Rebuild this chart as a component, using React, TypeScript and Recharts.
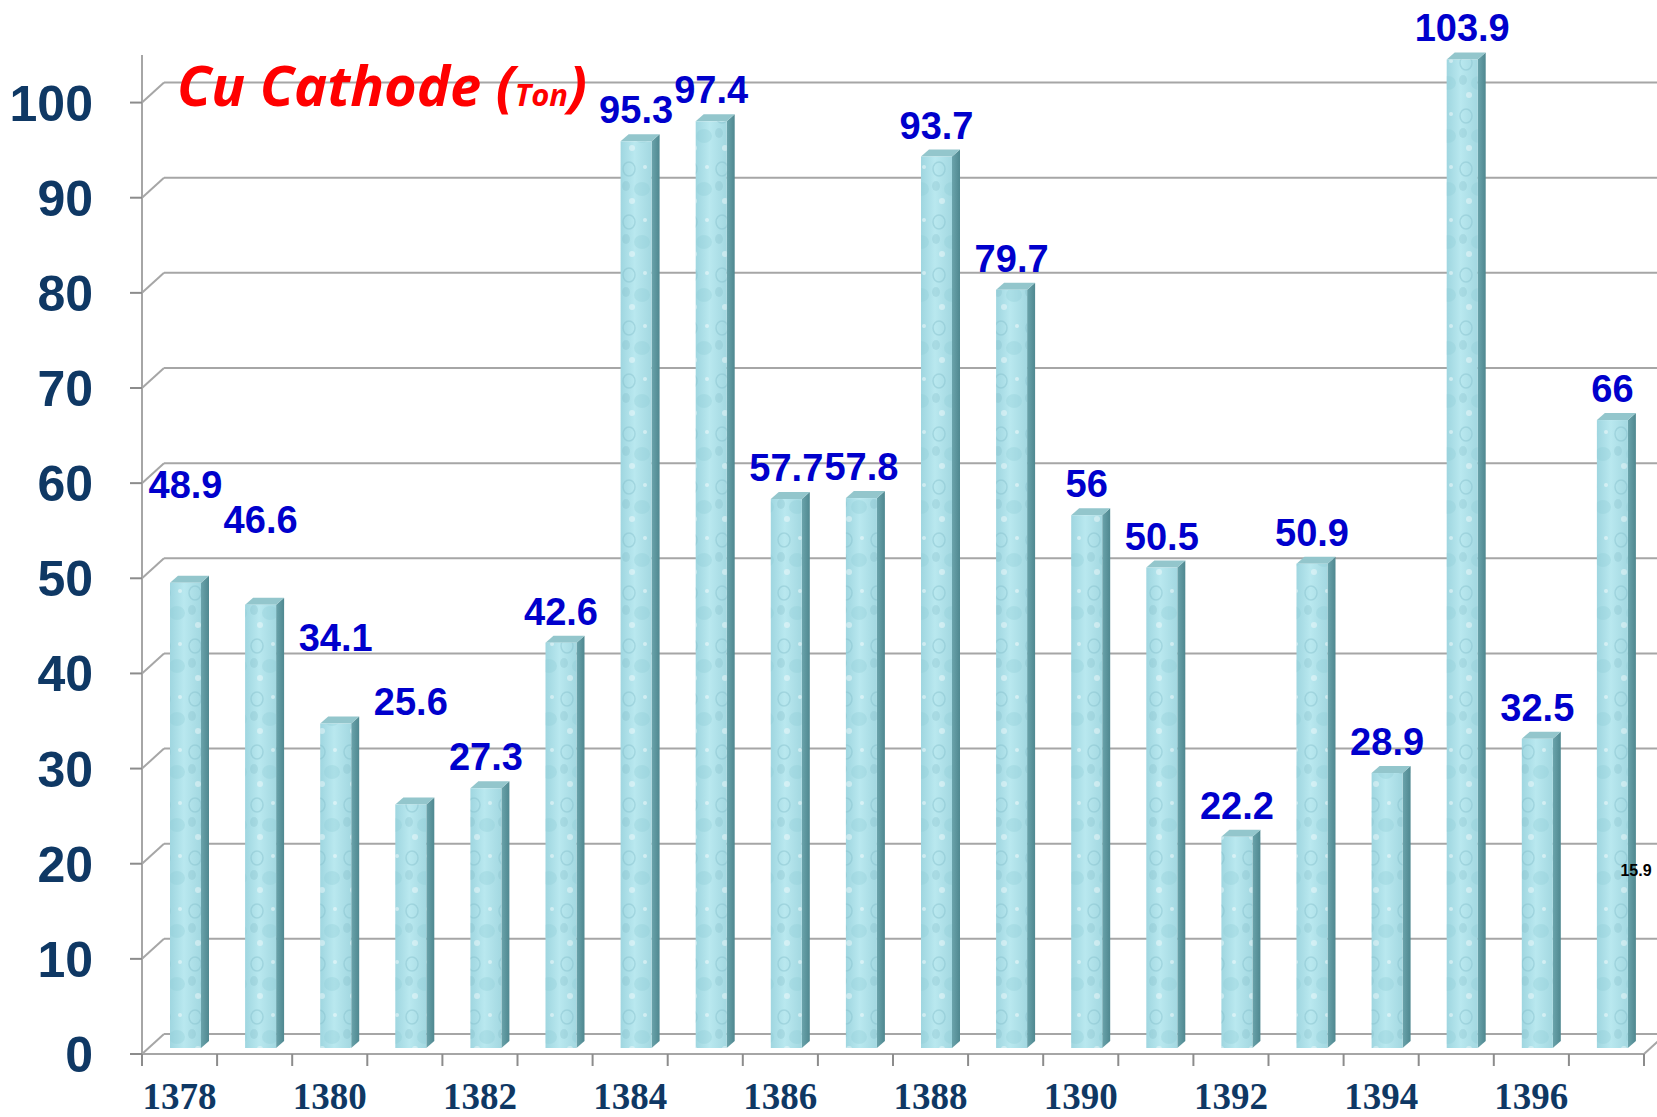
import React from 'react';
import { BarChart, Bar, XAxis, YAxis, CartesianGrid, LabelList, ReferenceDot } from 'recharts';

// ---------- data ----------
const years = ['1378', '1379', '1380', '1381', '1382', '1383', '1384', '1385', '1386', '1387',
  '1388', '1389', '1390', '1391', '1392', '1393', '1394', '1395', '1396', '1397'];
const production = [48.9, 46.6, 34.1, 25.6, 27.3, 42.6, 95.3, 97.4, 57.7, 57.8,
  93.7, 79.7, 56, 50.5, 22.2, 50.9, 28.9, 103.9, 32.5, 66];
const yTicks = [0, 10, 20, 30, 40, 50, 60, 70, 80, 90, 100];
const strayLabel = { year: '1397', value: 15.9 };

// ---------- styling / layout ----------
const labelLift = [67, 54, 55, 71, 0, 0, 0, 0, 0, 0, 0, 0, 0, 0, 0, 0, 0, 0, 0, 0];
const W = 1657;
const H = 1117;
const TOP = 55;
const X_AXIS_H = 63;
const BOTTOM_Y = H - X_AXIS_H;
const DX = 22; // wall depth
const DY = 20;
const BX = 6; // bar front-face offset from front plane
const BY = 6;
const SX = 8; // bar depth
const SY = 7;
const GRID = '#a6a6a6';
const NAVY = '#0f3864';

const data = years.map((y, i) => ({ year: y, value: production[i] }));

const Bar3D = (props: any) => {
  const { x, y, width, height } = props;
  if (!height || height <= 0) return null;
  const fx = x + BX;
  const fy = y - BY;
  const h = height;
  const w = width;
  return (
    <g>
      <polygon
        points={`${fx + w},${fy} ${fx + w + SX},${fy - SY} ${fx + w + SX},${fy + h - SY} ${fx + w},${fy + h}`}
        fill="url(#sideGrad)"
      />
      <polygon
        points={`${fx},${fy} ${fx + SX},${fy - SY} ${fx + w + SX},${fy - SY} ${fx + w},${fy}`}
        fill="#93c6cc"
      />
      <rect x={fx} y={fy} width={w} height={h} fill="url(#frontGrad)" />
      <rect x={fx} y={fy} width={w} height={h} fill="url(#drops)" />
    </g>
  );
};

const BarLabel = (props: any) => {
  const { x, y, width, value, index } = props;
  const cx = x + BX + width / 2;
  const lift = labelLift[index] || 0;
  return (
    <text
      x={cx}
      y={y - 24 - lift}
      textAnchor="middle"
      fontFamily="'Liberation Sans', Arial, sans-serif"
      fontWeight="bold"
      fontSize={38}
      fill="#0000cc"
    >
      {value}
    </text>
  );
};

const XTick = (props: any) => {
  const { x, y, payload, index } = props;
  const half = payload && payload.offset ? payload.offset : 37.55;
  const last = index === years.length - 1;
  return (
    <g>
      <line x1={x - half} y1={y} x2={x - half} y2={y + 12} stroke="#8c8c8c" strokeWidth={2} />
      {last && <line x1={x + half} y1={y} x2={x + half} y2={y + 12} stroke="#8c8c8c" strokeWidth={2} />}
      {index % 2 === 0 && (
        <text
          x={x}
          y={y + 55}
          textAnchor="middle"
          fontFamily="'Liberation Serif', 'Times New Roman', serif"
          fontWeight="bold"
          fontSize={37}
          fill={NAVY}
        >
          {payload.value}
        </text>
      )}
    </g>
  );
};

const YTick = (props: any) => {
  const { x, y, payload } = props;
  return (
    <text
      x={x}
      y={y + 18}
      textAnchor="end"
      fontFamily="'Liberation Sans', Arial, sans-serif"
      fontWeight="bold"
      fontSize={50}
      fill={NAVY}
    >
      {payload.value}
    </text>
  );
};

const gridLine = (p: any) => {
  const { x1, x2, y1, index } = p;
  if (y1 < TOP + 5) return <g key={`g-${index}-${y1}`} />;
  const isFloor = Math.abs(y1 - BOTTOM_Y) < 1;
  return (
    <g key={`g-${index}-${y1}`}>
      <line x1={x1} y1={y1} x2={x1 + DX} y2={y1 - DY} stroke={GRID} strokeWidth={2} />
      <line x1={x1 + DX} y1={y1 - DY} x2={x2 + DX} y2={y1 - DY} stroke={GRID} strokeWidth={2} />
      {isFloor && <line x1={x2} y1={y1} x2={x2 + DX} y2={y1 - DY} stroke={GRID} strokeWidth={2} />}
    </g>
  );
};

const StrayText = (p: any) => {
  const { cx, cy } = p;
  return (
    <text
      x={cx + 14}
      y={cy - 27}
      fontFamily="'Liberation Sans', Arial, sans-serif"
      fontWeight="bold"
      fontSize={16}
      fill="#000000"
    >
      {strayLabel.value}
    </text>
  );
};

export default function App() {
  return (
    <div style={{ position: 'absolute', left: 0, top: 0, width: W, height: H, background: '#ffffff' }}>
      <BarChart
        width={W}
        height={H}
        data={data}
        margin={{ top: TOP, right: 13, left: 0, bottom: 0 }}
        barSize={31}
      >
        <defs>
          <linearGradient id="frontGrad" x1="0" y1="0" x2="1" y2="0">
            <stop offset="0%" stopColor="#9fd6e0" />
            <stop offset="45%" stopColor="#b9e8ef" />
            <stop offset="100%" stopColor="#a3d8e1" />
          </linearGradient>
          <linearGradient id="sideGrad" x1="0" y1="0" x2="1" y2="0">
            <stop offset="0%" stopColor="#6aa3ab" />
            <stop offset="100%" stopColor="#4f8890" />
          </linearGradient>
          <pattern id="drops" width="31" height="53" patternUnits="userSpaceOnUse">
            <ellipse cx="9" cy="10" rx="6" ry="7" fill="none" stroke="#7fbcc7" strokeOpacity="0.4" strokeWidth="1.5" />
            <ellipse cx="22" cy="30" rx="8" ry="7" fill="#8ccbd6" fillOpacity="0.3" />
            <circle cx="12" cy="42" r="3" fill="#ffffff" fillOpacity="0.4" />
            <circle cx="25" cy="8" r="2" fill="#ffffff" fillOpacity="0.45" />
            <ellipse cx="6" cy="27" rx="4" ry="5" fill="#78b4bf" fillOpacity="0.25" />
          </pattern>
        </defs>
        <CartesianGrid vertical={false} horizontal={gridLine} />
        <XAxis
          dataKey="year"
          height={X_AXIS_H}
          interval={0}
          tickLine={false}
          tickSize={0}
          tickMargin={0}
          axisLine={{ stroke: GRID, strokeWidth: 2 }}
          tick={<XTick />}
        />
        <YAxis
          width={142}
          domain={[0, 105]}
          ticks={yTicks}
          interval={0}
          tickSize={12}
          tickMargin={37}
          tickLine={{ stroke: '#8c8c8c', strokeWidth: 2 }}
          axisLine={{ stroke: GRID, strokeWidth: 2 }}
          tick={<YTick />}
        />
        <Bar dataKey="value" shape={<Bar3D />} isAnimationActive={false}>
          <LabelList dataKey="value" content={<BarLabel />} />
        </Bar>
        <ReferenceDot x={strayLabel.year} y={strayLabel.value} r={0} shape={<StrayText />} isFront />
        <text x={177} y={106} fontFamily="'Open Sans', sans-serif" fontStyle="italic" fontWeight="bold" fill="#ff0000">
          <tspan fontSize={56}>Cu Cathode (</tspan>
          <tspan fontSize={31}>Ton</tspan>
          <tspan fontSize={56}>)</tspan>
        </text>
      </BarChart>
    </div>
  );
}
